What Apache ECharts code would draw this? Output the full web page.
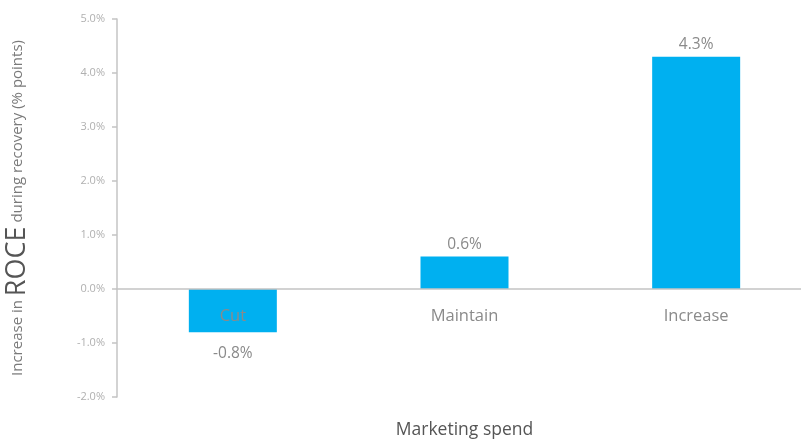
<!DOCTYPE html>
<html>
<head>
<meta charset="utf-8">
<script src="https://cdn.jsdelivr.net/npm/echarts@6/dist/echarts.min.js"></script>
<style>
  html, body { margin: 0; padding: 0; background: #ffffff; }
  #chart { width: 801px; height: 440px; }
</style>
</head>
<body>
<div id="chart"></div>
<script>
// Change in ROCE during recovery by marketing spend strategy
const categories = ['Cut', 'Maintain', 'Increase'];
const roceChange = [-0.8, 0.6, 4.3];
const yTicks = { min: -2, max: 5, interval: 1 };

const FONT = '"Open Sans", "Noto Sans", sans-serif';
const BAR = '#00b0f0';

const GRID_TOP = 19;
const GRID_BOTTOM = 43;
const CHART_H = 440;

// pixel distance from the bottom of the plot to the zero line
const plotH = CHART_H - GRID_TOP - GRID_BOTTOM;
const zeroLift = plotH * (0 - yTicks.min) / (yTicks.max - yTicks.min);

const chart = echarts.init(document.getElementById('chart'), null, { renderer: 'canvas' });

const barData = roceChange.map(v => ({
  value: v,
  label: v >= 0
    ? { position: 'top', distance: 4 }
    : { position: 'bottom', distance: 13 }
}));

chart.setOption({
  animation: false,
  backgroundColor: '#ffffff',
  grid: {
    left: 117, right: -11, top: GRID_TOP, bottom: GRID_BOTTOM,
    containLabel: false,
    outerBoundsMode: 'none'
  },
  xAxis: {
    type: 'category',
    data: categories,
    z: 10,
    // category axis sits on the zero line, labels and name follow it
    offset: -zeroLift,
    name: 'Marketing spend',
    nameLocation: 'middle',
    nameGap: 132,
    nameTextStyle: { fontFamily: FONT, fontSize: 17.5, color: '#555555' },
    axisLine: { show: true, onZero: false, lineStyle: { color: '#c4c4c4', width: 1.5 } },
    axisTick: { show: false },
    axisLabel: { show: true, margin: 19, fontFamily: FONT, fontSize: 16.5, color: '#8a8a8a' },
    splitLine: { show: false }
  },
  yAxis: {
    type: 'value',
    min: yTicks.min,
    max: yTicks.max,
    interval: yTicks.interval,
    name: '{n|Increase in }{b|ROCE}{n| during recovery (% points)}',
    nameLocation: 'middle',
    nameRotate: 90,
    nameGap: 86,
    nameTextStyle: {
      rich: {
        n: { fontFamily: FONT, fontSize: 15, color: '#7a7a7a' },
        b: { fontFamily: FONT, fontSize: 27, color: '#555555' }
      }
    },
    axisLine: { show: true, lineStyle: { color: '#c4c4c4', width: 1.5 } },
    axisTick: { show: true, length: 5, inside: false, lineStyle: { color: '#c4c4c4', width: 1.5 } },
    axisLabel: {
      margin: 12,
      fontFamily: FONT,
      fontSize: 11,
      color: '#b0b0b0',
      formatter: v => v.toFixed(1) + '%'
    },
    splitLine: { show: false }
  },
  series: [{
    type: 'bar',
    data: barData,
    barWidth: 88,
    itemStyle: { color: BAR },
    label: {
      show: true,
      fontFamily: FONT,
      fontSize: 15.5,
      color: '#8a8a8a',
      formatter: p => p.value.toFixed(1) + '%'
    }
  }]
});
</script>
</body>
</html>
